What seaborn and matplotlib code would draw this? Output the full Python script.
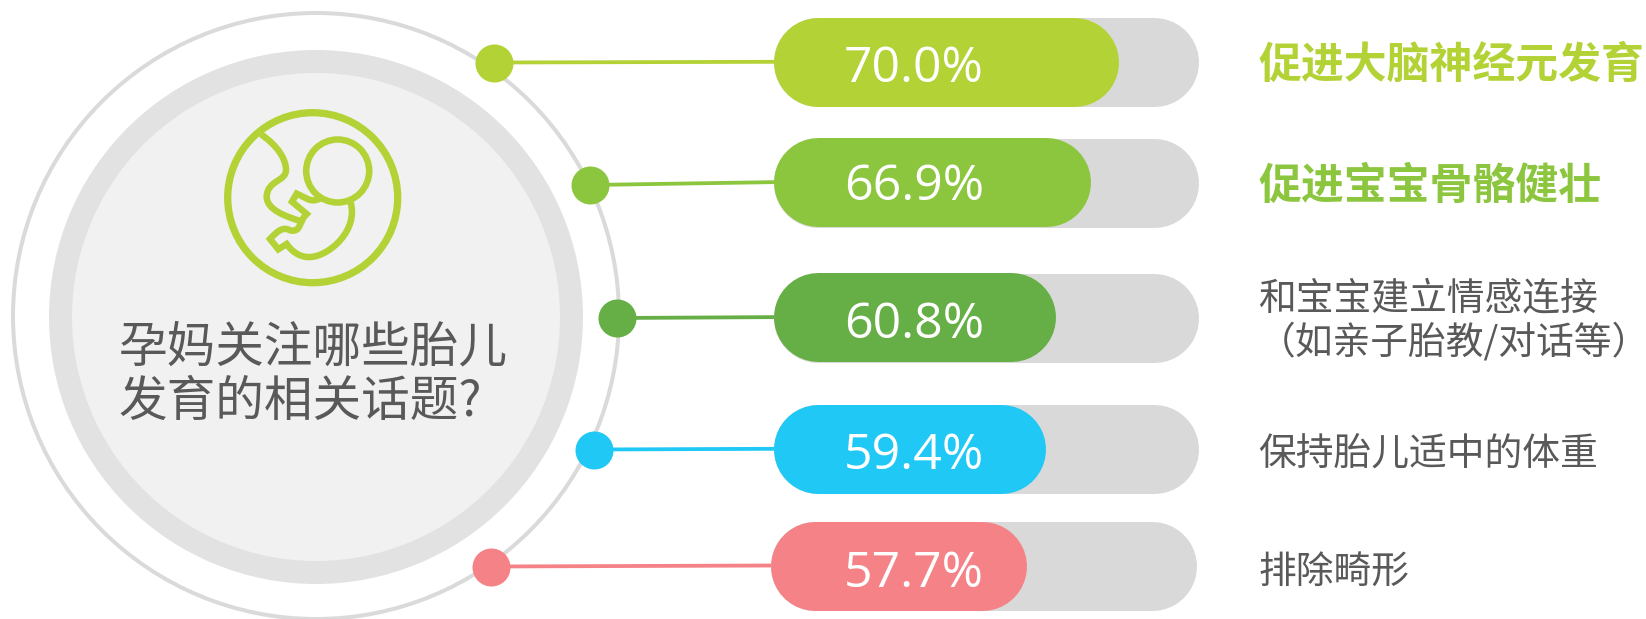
import numpy as np
import pandas as pd
import matplotlib
matplotlib.use("Agg")
import matplotlib.pyplot as plt
from matplotlib.patches import Circle, PathPatch
from matplotlib.path import Path
import seaborn as sns

# ---- data ----
topics = ["促进大脑神经元发育", "促进宝宝骨骼健壮", "和宝宝建立情感连接\n（如亲子胎教/对话等）",
          "保持胎儿适中的体重", "排除畸形"]
shares = [70.0, 66.9, 60.8, 59.4, 57.7]
# drawn fill length of each bar (px of figure)
fill_lengths = [345, 317, 282, 272, 256]
title_text = "孕妈关注哪些胎儿\n发育的相关话题?"

# ---- layout / style ----
W, H, DPI = 1646, 619, 100
px = 72 / DPI
colors = ["#B2D235", "#8CC63F", "#66AF46", "#1FC8F5", "#F58287"]
label_colors = ["#B2D235", "#8CC63F", "#595959", "#595959", "#595959"]
label_bold = [True, True, False, False, False]
bar_y = [62.3, 182.6, 317.6, 449.3, 566.0]
bar_left = [774, 774, 774, 774, 771]
bar_right = [1199, 1199, 1199, 1199, 1197]
bar_h = 89
dot_x = [494.5, 590, 617, 594, 491.5]
dot_y = [62.5, 185, 318, 449.5, 566.5]
label_y = [65, 186, 320.5, 454, 573]
value_base = [81.5, 199.5, 338, 469, 587]

sns.set_theme(style="white")
plt.rcParams["font.family"] = ["Noto Sans CJK SC", "DejaVu Sans"]
fig = plt.figure(figsize=(W / DPI, H / DPI), dpi=DPI, facecolor="white")
ax = fig.add_axes([0, 0, 1, 1])
ax.set_axis_off()

# ---- concentric circles ----
ax.add_patch(Circle((316, 316), 303, fc="white", ec="#DADADA", lw=4 * px, zorder=1))
ax.add_patch(Circle((316, 317), 267, fc="#E2E2E2", ec="none", zorder=1.1))
ax.add_patch(Circle((316, 317), 244, fc="#F1F1F1", ec="none", zorder=1.2))

# ---- icon ----
G = colors[0]
ax.add_patch(Circle((312.7, 197.7), 85, fc="none", ec=G, lw=7.3 * px, zorder=3))
ax.add_patch(Circle((337.7, 171), 31.5, fc="none", ec=G, lw=6.5 * px, zorder=3))
def z(p):
    return (180 + p[0] / 3, 90 + p[1] / 3)
C3, C4, M, L = Path.CURVE3, Path.CURVE4, Path.MOVETO, Path.LINETO
back = [((243, 133), M), ((290, 165), C4), ((318, 205), C4), ((318, 240), C4),
        ((318, 275), C4), ((262, 270), C4), ((260, 320), C4),
        ((260, 360), C4), ((320, 380), C4), ((358, 392), C4)]
body = [((420, 326), M), ((400, 335), C3), ((385, 328), C3), ((350, 311), L), ((336, 335), L),
        ((380, 372), L), ((355, 395), C4), ((365, 428), C4), ((330, 421), C4),
        ((310, 410), C4), ((295, 420), C4), ((270, 447), C4),
        ((295, 478), L), ((320, 462), L),
        ((340, 490), C4), ((365, 503), C4), ((392, 501), C4),
        ((450, 497), C4), ((535, 420), C4), ((512, 338), C4)]
for seg in (back, body):
    ax.add_patch(PathPatch(Path([z(p) for p, _ in seg], [c for _, c in seg]),
                           fc="none", ec=G, lw=6.5 * px, joinstyle="miter", zorder=3))

# ---- title ----
ax.text(118.5, 375, title_text, fontsize=35, color="#595959", ha="left", va="center",
        linespacing=1.15, zorder=4)

# ---- rows ----
for i, topic in enumerate(topics):
    r = bar_h / 2
    y = bar_y[i]
    # track
    sns.lineplot(x=[bar_left[i] + r, bar_right[i] - r], y=[y, y], color="#D9D9D9",
                 linewidth=bar_h * px, solid_capstyle="round", estimator=None, sort=False,
                 legend=False, ax=ax, zorder=5)
    # fill
    end = bar_left[i] + fill_lengths[i]
    sns.lineplot(x=[bar_left[i] + r, end - r], y=[y - 0.4, y - 0.4], color=colors[i],
                 linewidth=bar_h * px, solid_capstyle="round", estimator=None, sort=False,
                 legend=False, ax=ax, zorder=6)
    # connector
    sns.lineplot(x=[dot_x[i], bar_left[i] + 2], y=[dot_y[i], y - 0.5], color=colors[i],
                 linewidth=3.8 * px, estimator=None, sort=False, legend=False, ax=ax, zorder=4.5)
    # dot
    sns.scatterplot(x=[dot_x[i]], y=[dot_y[i]], color=colors[i], s=(38 * px) ** 2 * 1.0,
                    linewidth=0, legend=False, ax=ax, zorder=4.6)
    # value
    ax.text(914, value_base[i], f"{shares[i]:.1f}%", fontsize=36, color="white", ha="center",
            va="baseline", family=["Open Sans", "DejaVu Sans"], zorder=7)
    # label
    ax.text(1258, label_y[i], topic, fontsize=30.9 if label_bold[i] else 27.2,
            color=label_colors[i], fontweight="bold" if label_bold[i] else "normal",
            ha="left", va="center", linespacing=1.17, zorder=7)

ax.set_xlim(0, W)
ax.set_ylim(H, 0)
ax.set_xlabel("")
ax.set_ylabel("")
fig.savefig("out.png", dpi=DPI, facecolor="white")
